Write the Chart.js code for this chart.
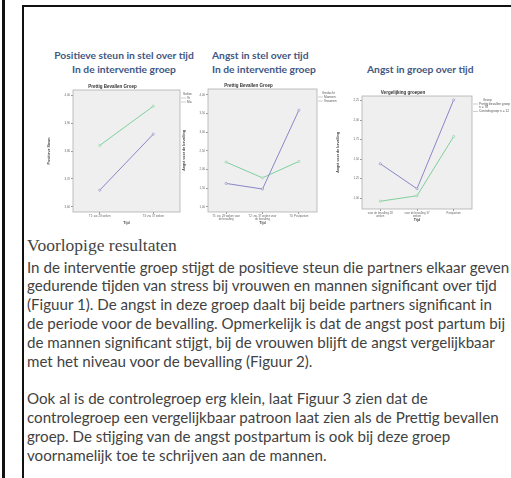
<!DOCTYPE html>
<html>
<head>
<meta charset="utf-8">
<script src="https://cdn.jsdelivr.net/npm/chart.js@4.4.1/dist/chart.umd.min.js"></script>
<style>
  body { margin: 0; width: 511px; height: 478px; position: relative; overflow: hidden; background: #fff; }
  .rule { position: absolute; background: #111; }
  .ttl { position: absolute; white-space: nowrap; font-family: Lato, 'Open Sans', sans-serif; font-weight: bold; color: #425783; line-height: 14px; }
  .body-txt { position: absolute; left: 27px; top: 257.6px; font-family: Lato, 'Open Sans', sans-serif; color: #424242; line-height: 18.8px; white-space: nowrap; }
  .body-txt div { height: 18.8px; }
  .kop { position: absolute; left: 27px; top: 235px; font-family: 'Liberation Serif', serif; color: #454545; line-height: 20px; white-space: nowrap; }
  canvas { position: absolute; }
</style>
</head>
<body>
<div class="rule" style="left:2px;top:0;width:3px;height:478px"></div>
<div class="rule" style="left:22px;top:5px;width:2px;height:473px"></div>
<div class="rule" style="left:22px;top:5px;width:489px;height:2px"></div>

<span class="ttl" id="t1a">Positieve steun in stel over tijd</span>
<span class="ttl" id="t1b">In de interventie groep</span>
<span class="ttl" id="t2a">Angst in stel over tijd</span>
<span class="ttl" id="t2b">In de interventie groep</span>
<span class="ttl" id="t3a">Angst in groep over tijd</span>

<canvas id="c1" width="155" height="145" style="left:45px;top:80px"></canvas>
<canvas id="c2" width="159" height="146" style="left:180px;top:79px"></canvas>
<canvas id="c3" width="177" height="136" style="left:334px;top:86px"></canvas>

<div class="kop" id="kop">Voorlopige resultaten</div>
<div class="body-txt" id="bodytxt">
  <div><span>In de interventie groep stijgt de positieve steun die partners elkaar geven</span></div>
  <div><span>gedurende tijden van stress bij vrouwen en mannen significant over tijd</span></div>
  <div><span>(Figuur 1). De angst in deze groep daalt bij beide partners significant in</span></div>
  <div><span>de periode voor de bevalling. Opmerkelijk is dat de angst post partum bij</span></div>
  <div><span>de mannen significant stijgt, bij de vrouwen blijft de angst vergelijkbaar</span></div>
  <div><span>met het niveau voor de bevalling (Figuur 2).</span></div>
  <div></div>
  <div><span>Ook al is de controlegroep erg klein, laat Figuur 3 zien dat de</span></div>
  <div><span>controlegroep een vergelijkbaar patroon laat zien als de Prettig bevallen</span></div>
  <div><span>groep. De stijging van de angst postpartum is ook bij deze groep</span></div>
  <div><span>voornamelijk toe te schrijven aan de mannen.</span></div>
</div>

<script>
// figuur 1: positieve steun
const tijd1 = ['T1: zw. 28 weken', 'T3: zw. 37 weken'];
const steunVrouw = [3.82, 3.96];
const steunMan = [3.66, 3.86];
const steunTicks = [3.6, 3.7, 3.8, 3.9, 4.0];

// figuur 2: angst per geslacht
const tijd2 = [['T1: zw. 28 weken voor', 'de bevalling'], ['T2: zw. 37 weken voor', 'de bevalling'], 'T4: Postpartum'];
const angstVrouw = [2.20, 1.78, 2.22];
const angstMan = [1.63, 1.48, 3.59];
const angstTicks = [1.0, 1.5, 2.0, 2.5, 3.0, 3.5, 4.0];

// figuur 3: vergelijking groepen
const tijd3 = [['voor de bevalling 28', 'weken'], ['voor de bevalling 37', 'weken'], 'Postpartum'];
const groepPrettig = [1.44, 1.12, 2.26];
const groepControle = [0.96, 1.03, 1.79];
const groepTicks = [1.0, 1.25, 1.5, 1.75, 2.0, 2.25];

const GREEN = '#80d09e';
const PURPLE = '#8a86c8';

Chart.defaults.font.family = "'Liberation Sans', Arial, sans-serif";
Chart.defaults.color = '#666';

const fmt = (v) => v.toFixed(2).replace('.', ',');

// grijze plot achtergrond + kader
const plotBox = {
  id: 'plotBox',
  beforeDraw(chart) {
    const { ctx, chartArea: a } = chart;
    ctx.save();
    ctx.fillStyle = '#efefef';
    ctx.fillRect(a.left, a.top, a.width, a.height);
    ctx.restore();
  },
  afterDraw(chart) {
    const { ctx, chartArea: a } = chart;
    ctx.save();
    ctx.strokeStyle = '#b0b0b0';
    ctx.lineWidth = 0.8;
    ctx.strokeRect(a.left, a.top, a.width, a.height);
    ctx.restore();
  },
};

// kleine legenda rechts van de plot
const miniLegend = {
  id: 'miniLegend',
  afterDraw(chart, args, opts) {
    const { ctx, chartArea: a } = chart;
    const x0 = a.right + 3;
    let y = a.top + 4;
    ctx.save();
    ctx.font = "3.2px 'Liberation Sans', sans-serif";
    ctx.fillStyle = '#555';
    ctx.textBaseline = 'middle';
    ctx.textAlign = 'left';
    ctx.fillText(opts.title, x0 + opts.titleX, y);
    y += 4;
    chart.data.datasets.forEach((ds, i) => {
      ctx.strokeStyle = '#999';
      ctx.lineWidth = 0.5;
      ctx.beginPath();
      ctx.moveTo(x0 - 2, y);
      ctx.lineTo(x0 + 3, y);
      ctx.stroke();
      const lines = [].concat(opts.labels[i]);
      lines.forEach((l, j) => ctx.fillText(l, x0 + 4, y + j * 3.4));
      y += 3.4 * lines.length + 0.6;
    });
    ctx.restore();
  },
};

function makeChart(id, cfg) {
  return new Chart(document.getElementById(id), {
    type: 'line',
    data: {
      labels: cfg.labels,
      datasets: cfg.series.map((s) => ({
        label: s.name,
        data: s.data,
        borderColor: s.color,
        backgroundColor: s.color,
        borderWidth: 1,
        pointRadius: 1.1,
        pointBorderWidth: 0.6,
        pointBackgroundColor: '#efefef',
        tension: 0,
      })),
    },
    options: {
      responsive: false,
      animation: false,
      layout: { padding: { right: cfg.rightPad, left: 0, top: 0, bottom: 0 } },
      plugins: {
        legend: { display: false },
        tooltip: { enabled: false },
        title: {
          display: true,
          text: cfg.title,
          color: '#333',
          font: { size: 4.5, weight: 'bold' },
          padding: { top: 4, bottom: 0.6 },
        },
        miniLegend: cfg.legend,
      },
      scales: {
        x: {
          offset: true,
          grid: { drawOnChartArea: false, tickLength: 2, color: '#999', offset: false },
          border: { display: false },
          ticks: { font: { size: 2.8 }, maxRotation: 0, autoSkip: false, padding: 0.5 },
          title: { display: true, text: 'Tijd', color: '#444', font: { size: 3.6, weight: 'bold' }, padding: 0 },
          afterFit: (s) => { s.height = 13; },
        },
        y: {
          min: cfg.min,
          max: cfg.max,
          afterBuildTicks: (s) => { s.ticks = cfg.ticks.map((v) => ({ value: v })); },
          grid: { drawOnChartArea: false, tickLength: 2, color: '#999' },
          border: { display: false },
          ticks: { font: { size: 2.8 }, padding: 1, callback: (v) => fmt(v) },
          title: { display: true, text: cfg.yTitle, color: '#444', font: { size: 3.6, weight: 'bold' }, padding: 2 },
          afterFit: (s) => { s.width = 28; },
        },
      },
    },
    plugins: [plotBox, miniLegend],
  });
}

makeChart('c1', {
  title: 'Prettig Bevallen Groep',
  labels: tijd1,
  series: [
    { name: 'Vrouw', data: steunVrouw, color: GREEN },
    { name: 'Man', data: steunMan, color: PURPLE },
  ],
  min: 3.582, max: 4.018, ticks: steunTicks,
  yTitle: 'Positieve Steun',
  rightPad: 20,
  legend: { title: 'Sekse', titleX: 0, labels: ['Vr', 'Ma'] },
});

makeChart('c2', {
  title: 'Prettig Bevallen Groep',
  labels: tijd2,
  series: [
    { name: 'Mannen', data: angstMan, color: PURPLE },
    { name: 'Vrouwen', data: angstVrouw, color: GREEN },
  ],
  min: 0.865, max: 4.16, ticks: angstTicks,
  yTitle: 'Angst voor de bevalling',
  rightPad: 22,
  legend: { title: 'Geslacht', titleX: 2, labels: ['Mannen', 'Vrouwen'] },
});

makeChart('c3', {
  title: 'Vergelijking groepen',
  labels: tijd3,
  series: [
    { name: 'Prettig bevallen groep', data: groepPrettig, color: PURPLE },
    { name: 'Controlegroep', data: groepControle, color: GREEN },
  ],
  min: 0.86, max: 2.31, ticks: groepTicks,
  yTitle: 'Angst voor de bevalling',
  rightPad: 39,
  legend: { title: 'Groep', titleX: 8, labels: [['Prettig bevallen groep', 'n = 78'], 'Controlegroep n = 12'] },
});

// tekst op maat schalen
function fitTo(el, width) {
  el.style.fontSize = '20px';
  const w = el.getBoundingClientRect().width;
  const size = 20 * width / w;
  el.style.fontSize = size + 'px';
  return size;
}
function place(el, left, centerY) {
  el.style.left = left + 'px';
  el.style.top = (centerY - 7) + 'px';
}

const titleSize = fitTo(document.getElementById('t2b'), 104);
['t1a', 't1b', 't2a', 't3a'].forEach((id) => { document.getElementById(id).style.fontSize = titleSize + 'px'; });
const t1a = document.getElementById('t1a');
const t1b = document.getElementById('t1b');
place(t1a, 124 - t1a.getBoundingClientRect().width / 2, 55);
place(t1b, 124 - t1b.getBoundingClientRect().width / 2, 69);
place(document.getElementById('t2a'), 212, 55);
place(document.getElementById('t2b'), 212, 69);
place(document.getElementById('t3a'), 367, 69);

fitTo(document.getElementById('kop'), 150);

const bodyLines = document.querySelectorAll('#bodytxt span');
const bodySize = (() => {
  const host = document.getElementById('bodytxt');
  host.style.fontSize = '20px';
  const w = bodyLines[0].getBoundingClientRect().width;
  return 20 * 483 / w;
})();
document.getElementById('bodytxt').style.fontSize = bodySize + 'px';
</script>
</body>
</html>
